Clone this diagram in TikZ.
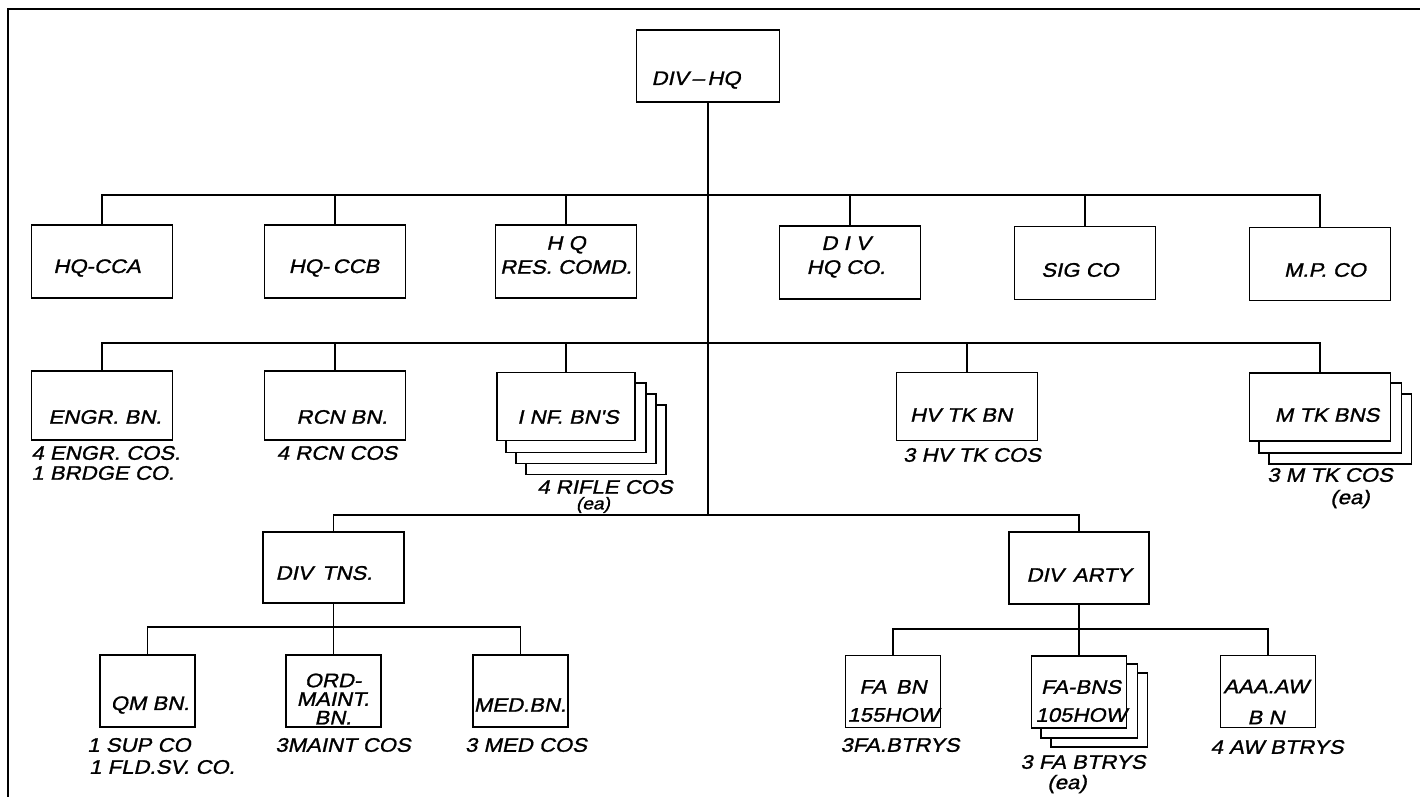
\documentclass[tikz,border=0pt]{standalone}
\usepackage{fontspec}
\newfontfamily\lett{Liberation Sans}[FakeStretch=1.13,FakeSlant=0.22,FakeBold=1.2]
\usetikzlibrary{calc,backgrounds}
\tikzset{
  ln/.style={line width=0.9pt},
  unit/.style={draw, line width=0.9pt, fill=white, inner sep=0pt, minimum width=70.5pt, minimum height=36pt},
  small/.style={unit, minimum width=47.5pt},
  layer/.style={draw, line width=0.9pt, fill=white},
  lbl/.style={font=\lett\fontsize{9.8}{11.5}\selectfont, inner sep=0pt, align=center},
  lsp/.style={font=\lett\fontsize{9.8}{#1}\selectfont},
  tiny/.style={font=\lett\fontsize{8.5}{10}\selectfont},
}
\begin{document}
\begin{tikzpicture}[x=0.5pt,y=-0.5pt]
\useasboundingbox (0,0) rectangle (1420,797);
% frame
\draw[line width=0.8pt] (8,797) -- (8,9) -- (1420,9);
% bus levels
\coordinate (b1) at (0,195);
\coordinate (b2) at (0,343);
\coordinate (b3) at (0,515);
\coordinate (b4) at (0,627);
\coordinate (b5) at (0,629);
% top
\node[unit, minimum width=71.5pt] (divhq) at (708,66) {};
% row 1
\node[unit, minimum height=36.5pt] (hqcca) at (102,261.5) {};
\node[unit, minimum height=36.5pt] (hqccb) at (335,261.5) {};
\node[unit, minimum height=36.5pt] (hqres) at (566,261.5) {};
\node[unit, minimum height=36.5pt] (divhqco) at (850,262.5) {};
\node[unit, minimum height=36.5pt] (sigco) at (1085,263) {};
\node[unit, minimum height=36.5pt] (mpco) at (1320,264) {};
% row 2
\node[unit, minimum height=34.5pt] (engr) at (102,405.5) {};
\node[unit, minimum height=34.5pt] (rcn) at (335,405.5) {};
\node[unit, minimum width=69pt, minimum height=34pt] (inf) at (566,406.5) {};
\node[unit, minimum height=34pt] (hvtk) at (967,406.5) {};
\node[unit, minimum height=34pt] (mtk) at (1320,407) {};
% row 3
\node[unit, minimum height=35.5pt] (divtns) at (333.5,567.5) {};
\node[unit, minimum width=70pt] (divarty) at (1079,568) {};
% row 4
\node[small] (qm) at (147.5,691) {};
\node[small] (ord) at (333.5,691) {};
\node[small] (med) at (520.5,691) {};
\node[small] (fabn) at (893,691.5) {};
\node[small] (fabns) at (1079,692) {};
\node[small] (aaa) at (1268,691.5) {};
% stacked layers
\begin{scope}[on background layer]
  \foreach \k in {3,2,1}
    \draw[layer] ($(inf.south west)+(\k*10,\k*11)$) rectangle ($(inf.north east)+(\k*10,\k*11)$);
  \foreach \k in {2,1}
    \draw[layer] ($(mtk.south west)+(\k*10,\k*11)$) rectangle ($(mtk.north east)+(\k*10,\k*11)$);
  \foreach \k in {2,1}
    \draw[layer] ($(fabns.south west)+(\k*10,\k*9)$) rectangle ($(fabns.north east)+(\k*10,\k*9)$);
\end{scope}
% connectors
\draw[ln] (divhq.south) -- (divhq.south |- b3);
\draw[ln] (hqcca.north) -- (hqcca.north |- b1) -- (mpco.north |- b1) -- (mpco.north);
\foreach \n in {hqccb,hqres,divhqco,sigco} \draw[ln] (\n.north) -- (\n.north |- b1);
\draw[ln] (engr.north) -- (engr.north |- b2) -- (mtk.north |- b2) -- (mtk.north);
\foreach \n in {rcn,inf,hvtk} \draw[ln] (\n.north) -- (\n.north |- b2);
\draw[ln] (divtns.north) -- (divtns.north |- b3) -- (divarty.north |- b3) -- (divarty.north);
\draw[ln] (divtns.south) -- (divtns.south |- b4);
\draw[ln] (qm.north) -- (qm.north |- b4) -- (med.north |- b4) -- (med.north);
\draw[ln] (ord.north) -- (ord.north |- b4);
\draw[ln] (divarty.south) -- (divarty.south |- b5);
\draw[ln] (fabn.north) -- (fabn.north |- b5) -- (aaa.north |- b5) -- (aaa.north);
\draw[ln] (fabns.north) -- (fabns.north |- b5);
% box texts
\node[lbl] (t-divhq) at (696,80) {DIV\,–\,HQ};
\node[lbl] (t-hqcca) at (97,268) {HQ-CCA};
\node[lbl] (t-hqccb) at (334,268) {HQ-\,CCB};
\node[lbl, lsp=12] (t-hqres) at (566,255) {H Q\\RES. COMD.};
\node[lbl, lsp=12] (t-divhqco) at (846,257) {D I V\\HQ CO.};
\node[lbl] (t-sigco) at (1080,270) {SIG CO};
\node[lbl] (t-mpco) at (1325,270) {M.P. CO};
\node[lbl] (t-engr) at (105,417) {ENGR. BN.};
\node[lbl] (t-rcn) at (342,417) {RCN BN.};
\node[lbl] (t-inf) at (568,417) {I NF. BN'S};
\node[lbl] (t-hvtk) at (961,415) {HV TK BN};
\node[lbl] (t-mtk) at (1327,415) {M TK BNS};
\node[lbl] (t-divtns) at (324,573) {DIV\, TNS.};
\node[lbl] (t-divarty) at (1079,575) {DIV\, ARTY};
\node[lbl] (t-qm) at (150,705) {QM BN.};
\node[lbl, lsp=9.3] (t-ord) at (333,699) {ORD-\\MAINT.\\BN.};
\node[lbl] (t-med) at (520,705) {MED.BN.};
\node[lbl, lsp=14] (t-fabn) at (893,701) {FA\, BN\\155HOW};
\node[lbl, lsp=14] (t-fabns) at (1081,701) {FA-BNS\\105HOW};
\node[lbl, lsp=15.5] (t-aaa) at (1266,702) {AAA.AW\\B N};
% sub-unit labels
\node[lbl, lsp=10, align=left, anchor=west] (l-engr) at (31,463) {4 ENGR. COS.\\1 BRDGE CO.};
\node[lbl] (l-rcn) at (337,453) {4 RCN COS};
\node[lbl] (l-inf) at (605,487) {4 RIFLE COS};
\node[lbl, tiny] (l-infea) at (593,505) {(ea)};
\node[lbl] (l-hvtk) at (972,455) {3 HV TK COS};
\node[lbl] (l-mtk) at (1330,475) {3 M TK COS};
\node[lbl] (l-mtkea) at (1350,499) {(ea)};
\node[lbl] (l-qm1) at (139,745) {1 SUP CO};
\node[lbl] (l-qm2) at (162,767) {1 FLD.SV. CO.};
\node[lbl] (l-ord) at (343,745) {3MAINT COS};
\node[lbl] (l-med) at (526,745) {3 MED COS};
\node[lbl] (l-fabn) at (900,745) {3FA.BTRYS};
\node[lbl] (l-fabns) at (1083,762) {3 FA BTRYS};
\node[lbl] (l-fabnsea) at (1067,784) {(ea)};
\node[lbl] (l-aaa) at (1277,747) {4 AW BTRYS};
\end{tikzpicture}
\end{document}
